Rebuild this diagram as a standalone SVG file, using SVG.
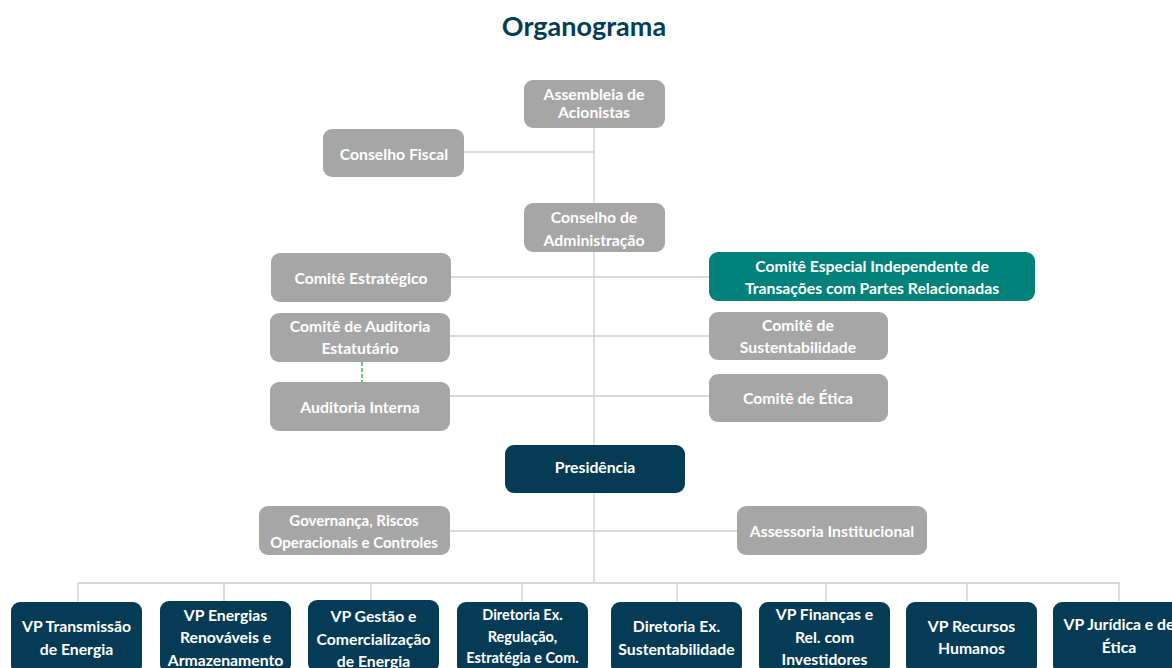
<svg xmlns="http://www.w3.org/2000/svg" width="1172" height="668" viewBox="0 0 1172 668">
<style>
.g{fill:#a6a6a6}
.n{fill:#053b54}
.t{fill:#00827a}
text{font-family:Lato,"Liberation Sans",sans-serif;font-weight:700;fill:#ffffff;font-size:15.75px;text-anchor:middle}
.title{fill:#053d57;font-size:27px}
.ln{stroke:#cccccc;stroke-width:1.3;fill:none}
.dash{stroke:#4caf50;stroke-width:1.5;stroke-dasharray:4 2;fill:none}
</style>
<rect width="1172" height="668" fill="#ffffff"/>
<text class="title" x="584" y="36">Organograma</text>
<g id="connectors">
<path class="ln" d="M594 128V583"/>
<path class="ln" d="M464 152H594"/>
<path class="ln" d="M451 277H709"/>
<path class="ln" d="M450 336H709"/>
<path class="ln" d="M450 396H709"/>
<path class="ln" d="M450 531H737"/>
<path class="ln" d="M78 601V583H1119V601"/>
<path class="ln" d="M224 583V601M371 583V601M522 583V601M677 583V601M826 583V601M967 583V601"/>
<path class="dash" d="M362 362V382"/>
</g>
<g id="assembleia"><rect class="g" x="524" y="80" width="141" height="48" rx="9"/><text x="594" y="99.5">Assembleia de</text><text x="594" y="117.5">Acionistas</text></g>
<g id="conselho-fiscal"><rect class="g" x="323" y="129" width="141" height="48" rx="9"/><text x="394" y="159.5">Conselho Fiscal</text></g>
<g id="conselho-adm"><rect class="g" x="524" y="203" width="141" height="49" rx="9"/><text x="594" y="222.5">Conselho de</text><text x="594" y="245.5">Administração</text></g>
<g id="comite-estrategico"><rect class="g" x="271" y="253" width="180" height="49" rx="9"/><text x="361" y="283.5">Comitê Estratégico</text></g>
<g id="comite-auditoria"><rect class="g" x="270" y="313" width="180" height="49" rx="9"/><text x="360" y="331.5">Comitê de Auditoria</text><text x="360" y="353.5">Estatutário</text></g>
<g id="auditoria-interna"><rect class="g" x="270" y="382" width="180" height="49" rx="9"/><text x="360" y="412.5">Auditoria Interna</text></g>
<g id="comite-especial"><rect class="t" x="709" y="252" width="326" height="49" rx="9"/><text x="872" y="271.5">Comitê Especial Independente de</text><text x="872" y="293.5">Transações com Partes Relacionadas</text></g>
<g id="comite-sustentabilidade"><rect class="g" x="709" y="312" width="179" height="48" rx="9"/><text x="798" y="330.5">Comitê de</text><text x="798" y="352.5">Sustentabilidade</text></g>
<g id="comite-etica"><rect class="g" x="709" y="374" width="179" height="48" rx="9"/><text x="798" y="403.5">Comitê de Ética</text></g>
<g id="presidencia"><rect class="n" x="505" y="445" width="180" height="48" rx="9"/><text x="595" y="472.5">Presidência</text></g>
<g id="governanca"><rect class="g" x="259" y="506" width="191" height="49" rx="9"/><text x="354" y="525.5" style="font-size:15px">Governança, Riscos</text><text x="354" y="547.5" style="font-size:15px">Operacionais e Controles</text></g>
<g id="assessoria"><rect class="g" x="737" y="506" width="190" height="49" rx="9"/><text x="832" y="536.5">Assessoria Institucional</text></g>
<g id="vp-transmissao"><rect class="n" x="11" y="602" width="131" height="72" rx="9"/><text x="76.5" y="631.5">VP Transmissão</text><text x="76.5" y="654.5">de Energia</text></g>
<g id="vp-renovaveis"><rect class="n" x="160" y="601" width="131" height="72" rx="9"/><text x="225.5" y="620.5">VP Energias</text><text x="225.5" y="642.5">Renováveis e</text><text x="225.5" y="665.5">Armazenamento</text></g>
<g id="vp-gestao"><rect class="n" x="308" y="600" width="131" height="72" rx="9"/><text x="373.5" y="621.5">VP Gestão e</text><text x="373.5" y="644.5">Comercialização</text><text x="373.5" y="666.5">de Energia</text></g>
<g id="dir-regulacao"><rect class="n" x="457" y="602" width="131" height="72" rx="9"/><text x="522.5" y="619.5" style="font-size:14.5px">Diretoria Ex.</text><text x="522.5" y="641.5" style="font-size:14.5px">Regulação,</text><text x="522.5" y="663" style="font-size:14.5px">Estratégia e Com.</text></g>
<g id="dir-sustentabilidade"><rect class="n" x="611" y="602" width="131" height="72" rx="9"/><text x="676.5" y="631.5">Diretoria Ex.</text><text x="676.5" y="654.5">Sustentabilidade</text></g>
<g id="vp-financas"><rect class="n" x="759" y="602" width="131" height="72" rx="9"/><text x="824.5" y="619.5">VP Finanças e</text><text x="824.5" y="642.5">Rel. com</text><text x="824.5" y="664.5">Investidores</text></g>
<g id="vp-rh"><rect class="n" x="906" y="602" width="131" height="72" rx="9"/><text x="971.5" y="631.5">VP Recursos</text><text x="971.5" y="653.5">Humanos</text></g>
<g id="vp-juridica"><rect class="n" x="1053" y="602" width="131" height="72" rx="9"/><text x="1119" y="629.5">VP Jurídica e de</text><text x="1119" y="652.5">Ética</text></g>
</svg>
